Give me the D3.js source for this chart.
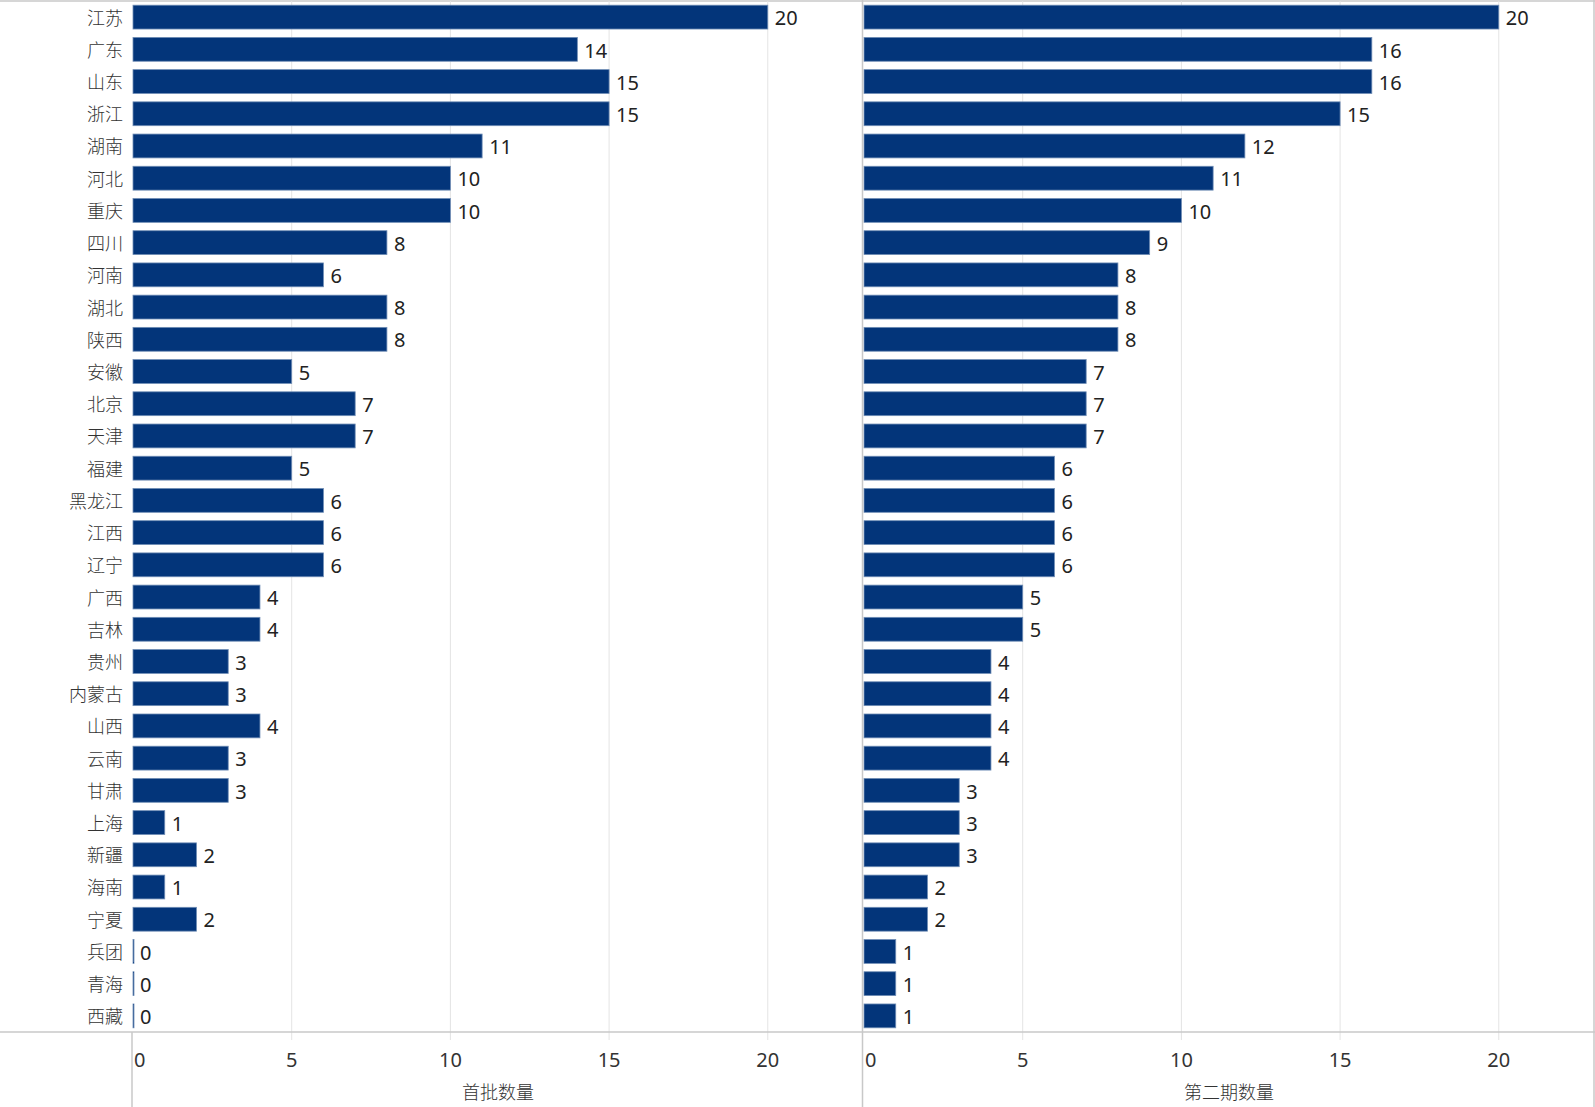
<!DOCTYPE html>
<html>
<head>
<meta charset="utf-8">
<script src="https://cdn.jsdelivr.net/npm/d3@7"></script>
<style>
  html, body { margin: 0; padding: 0; background: #fff; }
  svg { display: block; }
</style>
</head>
<body>
<svg id="chart"></svg>
<script>
const width = 1595;
const height = 1107;

const provinces = ["江苏", "广东", "山东", "浙江", "湖南", "河北", "重庆", "四川", "河南", "湖北",
  "陕西", "安徽", "北京", "天津", "福建", "黑龙江", "江西", "辽宁", "广西", "吉林", "贵州",
  "内蒙古", "山西", "云南", "甘肃", "上海", "新疆", "海南", "宁夏", "兵团", "青海", "西藏"];

const firstBatch = [20, 14, 15, 15, 11, 10, 10, 8, 6, 8, 8, 5, 7, 7, 5, 6, 6, 6, 4, 4, 3,
  3, 4, 3, 3, 1, 2, 1, 2, 0, 0, 0];

const secondBatch = [20, 16, 16, 15, 12, 11, 10, 9, 8, 8, 8, 7, 7, 7, 6, 6, 6, 6, 5, 5, 4,
  4, 4, 4, 3, 3, 3, 2, 2, 1, 1, 1];

const tickValues = [0, 5, 10, 15, 20];
const panelTitles = ["首批数量", "第二期数量"];

const barColor = "#03357a";
const barStroke = "#6f8db5";
const gridColor = "#e4e4e4";
const lineColor = "#c8c8c8";
const textColor = "#333";
const numFont = "'Noto Sans', 'DejaVu Sans', sans-serif";
const cjkFont = "'Noto Sans CJK SC', sans-serif";

const plotTop = 1;
const plotBottom = 1032;

const svg = d3.select("#chart")
  .attr("width", width)
  .attr("height", height);

const y = d3.scaleBand()
  .domain(provinces)
  .range([plotTop, plotBottom])
  .paddingInner(0.26)
  .paddingOuter(0.13);

const panels = [
  { values: firstBatch, x0: 133, x1: 863, title: panelTitles[0] },
  { values: secondBatch, x0: 864, x1: 1594, title: panelTitles[1] }
];

// frame lines
svg.append("line")
  .attr("x1", 0).attr("x2", width)
  .attr("y1", plotTop).attr("y2", plotTop)
  .attr("stroke", lineColor).attr("stroke-width", 1.5);

panels.forEach(p => {
  const x = d3.scaleLinear().domain([0, 23]).range([p.x0, p.x1]);
  const g = svg.append("g");

  // gridlines
  g.selectAll("line.grid")
    .data(tickValues.filter(d => d > 0))
    .join("line")
    .attr("class", "grid")
    .attr("x1", d => x(d)).attr("x2", d => x(d))
    .attr("y1", plotTop).attr("y2", plotBottom + 8)
    .attr("stroke", gridColor)
    .attr("stroke-width", 1);

  // bars
  g.selectAll("rect")
    .data(p.values)
    .join("rect")
    .attr("x", x(0))
    .attr("y", (d, i) => y(provinces[i]))
    .attr("width", d => Math.max(x(d) - x(0), 1))
    .attr("height", y.bandwidth())
    .attr("fill", barColor)
    .attr("stroke", barStroke)
    .attr("stroke-width", 0.8);

  // value labels
  g.selectAll("text.value")
    .data(p.values)
    .join("text")
    .attr("class", "value")
    .attr("x", d => x(d) + 7)
    .attr("y", (d, i) => y(provinces[i]) + y.bandwidth() / 2 + 1)
    .attr("dy", "0.36em")
    .attr("font-family", numFont)
    .attr("font-size", 20)
    .attr("fill", "#222")
    .text(d => d);

  // x axis tick labels
  g.selectAll("text.tick")
    .data(tickValues)
    .join("text")
    .attr("class", "tick")
    .attr("x", d => d === 0 ? x(d) + 1 : x(d))
    .attr("y", 1060)
    .attr("dy", "0.36em")
    .attr("text-anchor", d => d === 0 ? "start" : "middle")
    .attr("font-family", numFont)
    .attr("font-size", 20)
    .attr("fill", textColor)
    .text(d => d);

  // axis title
  g.append("text")
    .attr("x", (p.x0 + p.x1) / 2)
    .attr("y", 1093)
    .attr("dy", "0.36em")
    .attr("text-anchor", "middle")
    .attr("font-family", cjkFont)
    .attr("font-weight", 300)
    .attr("font-size", 18)
    .attr("fill", textColor)
    .text(p.title);
});

// category labels
svg.append("g")
  .selectAll("text")
  .data(provinces)
  .join("text")
  .attr("x", 123)
  .attr("y", d => y(d) + y.bandwidth() / 2 + 1)
  .attr("dy", "0.36em")
  .attr("text-anchor", "end")
  .attr("font-family", cjkFont)
  .attr("font-weight", 300)
  .attr("font-size", 18)
  .attr("fill", textColor)
  .text(d => d);

// axis baseline and dividers
svg.append("line")
  .attr("x1", 0).attr("x2", width)
  .attr("y1", plotBottom).attr("y2", plotBottom)
  .attr("stroke", lineColor).attr("stroke-width", 1.5);

svg.append("line")
  .attr("x1", 132).attr("x2", 132)
  .attr("y1", plotBottom).attr("y2", height)
  .attr("stroke", lineColor).attr("stroke-width", 1.5);

svg.append("line")
  .attr("x1", 862.5).attr("x2", 862.5)
  .attr("y1", 0).attr("y2", height)
  .attr("stroke", lineColor).attr("stroke-width", 1.5);

svg.append("line")
  .attr("x1", 1594).attr("x2", 1594)
  .attr("y1", 0).attr("y2", height)
  .attr("stroke", lineColor).attr("stroke-width", 1.5);
</script>
</body>
</html>
